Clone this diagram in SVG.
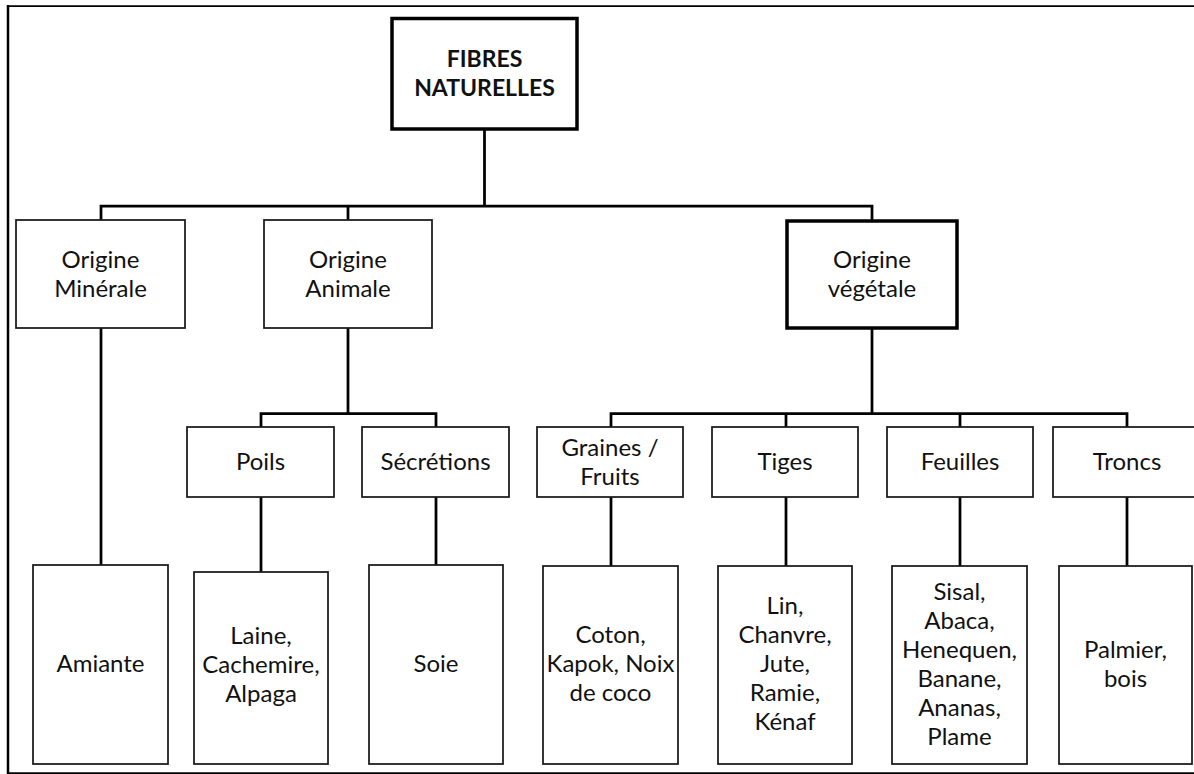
<svg xmlns="http://www.w3.org/2000/svg" width="1194" height="774" viewBox="0 0 1194 774">
  <style>
    .box { fill: #ffffff; stroke: #1a1a1a; stroke-width: 1.75; }
    .thick { fill: #ffffff; stroke: #000000; stroke-width: 3.5; }
    .lbl { font-family: Lato, "Liberation Sans", sans-serif; font-size: 24px; fill: #111111; text-anchor: middle; }
    .bold { font-weight: bold; font-size: 23px; }
    .conn { stroke: #000000; stroke-width: 2.75; fill: none; stroke-linecap: square; }
    .frame { stroke: #000000; fill: none; }
  </style>
  <rect width="1194" height="774" fill="#ffffff"/>
  <g id="frame">
    <line class="frame" x1="8" y1="6" x2="1194" y2="6" stroke-width="1.75"/>
    <line class="frame" x1="8" y1="5" x2="8" y2="774" stroke-width="2.5"/>
    <line class="frame" x1="8" y1="773" x2="1194" y2="773" stroke-width="1.75"/>
  </g>
  <g id="connectors">
    <path class="conn" d="M484.5 129 V206 M101 206 H872 M101 206 V220 M348 206 V220 M872 206 V220"/>
    <path class="conn" d="M101 328 V565"/>
    <path class="conn" d="M348 328 V413.5 M261 413.5 H436 M261 413.5 V427 M436 413.5 V427"/>
    <path class="conn" d="M261 497 V572 M436 497 V565"/>
    <path class="conn" d="M872 328 V413.5 M611 413.5 H1127 M611 413.5 V427 M786 413.5 V427 M960 413.5 V427 M1127 413.5 V427"/>
    <path class="conn" d="M611 497 V566 M786 497 V566 M960 497 V566 M1127 497 V566"/>
  </g>
  <g id="n-fibres">
    <rect class="thick" x="392" y="18.5" width="185" height="110.5"/>
    <text class="lbl bold" x="484.5" y="67">FIBRES</text>
    <text class="lbl bold" x="484.5" y="96">NATURELLES</text>
  </g>
  <g id="n-minerale">
    <rect class="box" x="16" y="220" width="169" height="108"/>
    <text class="lbl" x="100.5" y="267.5">Origine</text>
    <text class="lbl" x="100.5" y="296.5">Minérale</text>
  </g>
  <g id="n-animale">
    <rect class="box" x="264" y="220" width="168" height="108"/>
    <text class="lbl" x="348" y="267.5">Origine</text>
    <text class="lbl" x="348" y="296.5">Animale</text>
  </g>
  <g id="n-vegetale">
    <rect class="thick" x="787" y="221" width="170" height="107"/>
    <text class="lbl" x="872" y="267.5">Origine</text>
    <text class="lbl" x="872" y="296.5">végétale</text>
  </g>
  <g id="n-poils">
    <rect class="box" x="187" y="427" width="147" height="70"/>
    <text class="lbl" x="260.5" y="470">Poils</text>
  </g>
  <g id="n-secretions">
    <rect class="box" x="362" y="427" width="147" height="70"/>
    <text class="lbl" x="435.5" y="470">Sécrétions</text>
  </g>
  <g id="n-graines">
    <rect class="box" x="537" y="427" width="146" height="70"/>
    <text class="lbl" x="610" y="455.5">Graines /</text>
    <text class="lbl" x="610" y="484.5">Fruits</text>
  </g>
  <g id="n-tiges">
    <rect class="box" x="712" y="427" width="146" height="70"/>
    <text class="lbl" x="785" y="470">Tiges</text>
  </g>
  <g id="n-feuilles">
    <rect class="box" x="887" y="427" width="146" height="70"/>
    <text class="lbl" x="960" y="470">Feuilles</text>
  </g>
  <g id="n-troncs">
    <rect class="box" x="1053" y="427" width="148" height="70"/>
    <text class="lbl" x="1127" y="470">Troncs</text>
  </g>
  <g id="n-amiante">
    <rect class="box" x="33" y="565" width="135" height="199"/>
    <text class="lbl" x="100.5" y="672">Amiante</text>
  </g>
  <g id="n-laine">
    <rect class="box" x="194" y="572" width="134" height="192"/>
    <text class="lbl" x="261" y="644">Laine,</text>
    <text class="lbl" x="261" y="673">Cachemire,</text>
    <text class="lbl" x="261" y="702">Alpaga</text>
  </g>
  <g id="n-soie">
    <rect class="box" x="369" y="565" width="134" height="199"/>
    <text class="lbl" x="436" y="672">Soie</text>
  </g>
  <g id="n-coton">
    <rect class="box" x="543" y="566" width="135" height="198"/>
    <text class="lbl" x="610.5" y="643">Coton,</text>
    <text class="lbl" x="610.5" y="672">Kapok, Noix</text>
    <text class="lbl" x="610.5" y="701">de coco</text>
  </g>
  <g id="n-lin">
    <rect class="box" x="718" y="566" width="134" height="198"/>
    <text class="lbl" x="785" y="614">Lin,</text>
    <text class="lbl" x="785" y="643">Chanvre,</text>
    <text class="lbl" x="785" y="672">Jute,</text>
    <text class="lbl" x="785" y="701">Ramie,</text>
    <text class="lbl" x="785" y="730">Kénaf</text>
  </g>
  <g id="n-sisal">
    <rect class="box" x="892" y="566" width="135" height="198"/>
    <text class="lbl" x="959.5" y="599.5">Sisal,</text>
    <text class="lbl" x="959.5" y="628.5">Abaca,</text>
    <text class="lbl" x="959.5" y="657.5">Henequen,</text>
    <text class="lbl" x="959.5" y="686.5">Banane,</text>
    <text class="lbl" x="959.5" y="715.5">Ananas,</text>
    <text class="lbl" x="959.5" y="744.5">Plame</text>
  </g>
  <g id="n-palmier">
    <rect class="box" x="1059" y="566" width="133" height="198"/>
    <text class="lbl" x="1125.5" y="658">Palmier,</text>
    <text class="lbl" x="1125.5" y="687">bois</text>
  </g>
</svg>
